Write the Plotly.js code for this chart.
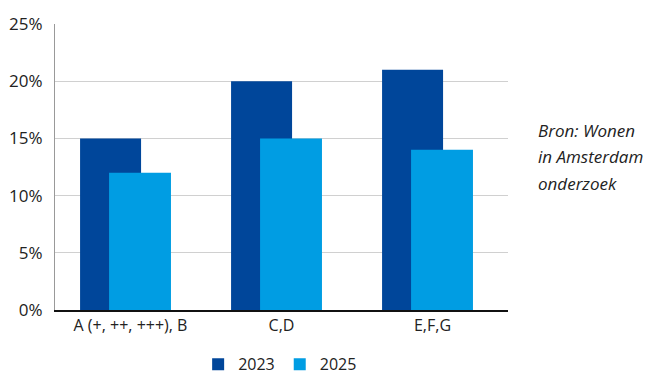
<!DOCTYPE html>
<html>
<head>
<meta charset="utf-8">
<script src="https://cdn.plot.ly/plotly-3.0.1.min.js"></script>
<style>html,body{margin:0;padding:0;background:#fff;}#chart{width:661px;height:375px;}</style>
</head>
<body>
<div id="chart"></div>
<script>
const categories = ["A (+, ++, +++), B", "C,D", "E,F,G"];
const series2023 = [15, 20, 21];
const series2025 = [12, 15, 14];
const seriesNames = ["2023", "2025"];
const yTicks = [0, 5, 10, 15, 20, 25];
const yTickLabels = ["0%", "5%", "10%", "15%", "20%", "25%"];
const sourceLines = ["Bron: Wonen", "in Amsterdam", "onderzoek"];

const pos = categories.map((c, i) => i);
const font = "'Open Sans', 'Noto Sans', sans-serif";

const traces = [
  {type: "bar", name: seriesNames[0], x: pos, y: series2023,
   marker: {color: "#00469a"}, width: 0.404, offset: -0.334, hoverinfo: "skip"},
  {type: "bar", name: seriesNames[1], x: pos, y: series2025,
   marker: {color: "#009de3"}, width: 0.41, offset: -0.142, hoverinfo: "skip"}
];

const layout = {
  width: 661, height: 375,
  margin: {l: 55, r: 153, t: 24, b: 65, pad: 0, autoexpand: false},
  paper_bgcolor: "#fff", plot_bgcolor: "#fff",
  barmode: "overlay",
  font: {family: font, size: 16, color: "#222"},
  xaxis: {
    type: "linear", range: [-0.5, 2.5],
    tickvals: pos, ticktext: categories,
    showgrid: false, zeroline: false,
    showline: true, linecolor: "#111", linewidth: 2,
    ticks: "", tickfont: {size: 16, color: "#222"},
    fixedrange: true, automargin: false
  },
  yaxis: {
    range: [0, 25], tickvals: yTicks, ticktext: yTickLabels,
    showgrid: true, gridcolor: "#d0d0d0", gridwidth: 1,
    zeroline: false, showline: true, linecolor: "#999", linewidth: 1,
    ticks: "", ticklabelstandoff: 8, tickfont: {size: 17, color: "#222"},
    fixedrange: true, automargin: false
  },
  showlegend: true,
  legend: {
    orientation: "h", x: 0.497, xanchor: "center", y: -0.19, yanchor: "middle",
    font: {size: 16, color: "#222"}, traceorder: "normal", itemwidth: 30
  },
  annotations: sourceLines.map((t, i) => ({
    xref: "paper", yref: "paper", x: 1.062, y: 0.626 - i * 0.091,
    xanchor: "left", yanchor: "middle", align: "left",
    text: "<i>" + t + "</i>", showarrow: false,
    font: {size: 17, color: "#222", family: font}
  }))
};

Plotly.newPlot("chart", traces, layout, {displayModeBar: false, staticPlot: true});
</script>
</body>
</html>
